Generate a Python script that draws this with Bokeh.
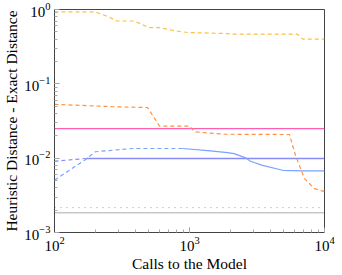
from bokeh.plotting import figure
from bokeh.embed import file_html
from bokeh.resources import INLINE
from bokeh.models import Range1d

# ---- data ----
yellow_x = [100, 200, 250, 290, 390, 500, 600, 770, 970, 1900, 2100, 6300, 6900, 10000]
yellow_y = [0.93, 0.93, 0.80, 0.70, 0.70, 0.57, 0.57, 0.52, 0.49, 0.475, 0.465, 0.465, 0.40, 0.40]

orange_x = [100, 293, 489, 600, 1000, 1090, 1815, 5500, 6100, 7110, 8430, 9670, 10000]
orange_y = [0.053, 0.049, 0.048, 0.027, 0.027, 0.0226, 0.021, 0.0208, 0.0109, 0.0053, 0.0039, 0.0036, 0.0036]

pink_x = [100, 10000]
pink_y = [0.025, 0.025]

purple_dash_x = [100, 170]
purple_dash_y = [0.0091, 0.0099]
purple_x = [170, 10000]
purple_y = [0.0099, 0.0099]

blue_dash_x = [100, 167, 201, 378, 888]
blue_dash_y = [0.00505, 0.0094, 0.0122, 0.0135, 0.0135]
blue_x = [888, 1432, 1910, 2142, 2600, 2830, 3475, 4890, 6870, 10000]
blue_y = [0.0135, 0.0125, 0.0119, 0.01153, 0.0101, 0.0091, 0.0080, 0.00687, 0.00675, 0.00675]

gray_sparse_x = [100, 10000]
gray_sparse_y = [0.00216, 0.00216]
gray_dense_x = [100, 10000]
gray_dense_y = [0.00184, 0.00184]

FONT = "Liberation Serif"

p = figure(frame_width=270, frame_height=223, x_axis_type="log", y_axis_type="log",
           x_range=Range1d(100, 10000), y_range=Range1d(0.001, 1),
           output_backend="svg", toolbar_location=None,
           min_border_left=49, min_border_right=12, min_border_top=9, min_border_bottom=33)

p.xgrid.visible = False
p.ygrid.visible = False
p.outline_line_color = "#444444"
p.outline_line_width = 1
p.background_fill_color = "white"
p.border_fill_color = "white"

for ax in (p.xaxis[0], p.yaxis[0]):
    ax.axis_line_color = "#444444"
    ax.major_tick_in = 5
    ax.major_tick_out = 0
    ax.minor_tick_in = 3
    ax.minor_tick_out = 0
    ax.major_tick_line_color = "#999999"
    ax.minor_tick_line_color = "#aaaaaa"
    ax.major_label_text_font = FONT
    ax.major_label_text_font_size = "15px"
    ax.major_label_text_color = "black"
    ax.axis_label_text_font = FONT
    ax.axis_label_text_font_size = "15.5px"
    ax.axis_label_text_font_style = "normal"
    ax.axis_label_text_color = "black"

p.xaxis.axis_label = "Calls to the Model"
p.yaxis.axis_label = "Heuristic Distance - Exact Distance"
p.xaxis.major_label_standoff = 4
p.yaxis.major_label_standoff = 4
p.xaxis.axis_label_standoff = 1
p.yaxis.axis_label_standoff = 1

p.line(gray_sparse_x, gray_sparse_y, line_color="#999999", line_width=1, line_dash="1 5")
p.line(gray_dense_x, gray_dense_y, line_color="#555555", line_width=1, line_dash="1 1")
p.line(pink_x, pink_y, line_color="#FF5FAF", line_width=1.3, line_dash="solid")
p.line(purple_x, purple_y, line_color="#8A8AF5", line_width=1.3, line_dash="solid")
p.line(blue_x, blue_y, line_color="#7AA2FF", line_width=1.2, line_dash="solid")
p.line(purple_dash_x, purple_dash_y, line_color="#8A8AF5", line_width=1.2, line_dash="4 3")
p.line(blue_dash_x, blue_dash_y, line_color="#7AA2FF", line_width=1.2, line_dash="4 3")
p.line(yellow_x, yellow_y, line_color="#FFC040", line_width=1.2, line_dash="4 3")
p.line(orange_x, orange_y, line_color="#FF9040", line_width=1.2, line_dash="4 3")

open("out.html", "w").write(file_html(p, INLINE))
